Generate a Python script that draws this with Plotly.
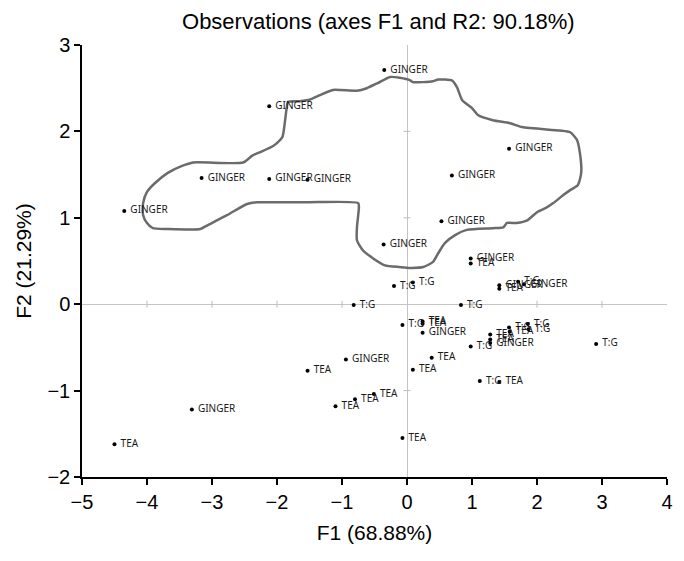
import plotly.graph_objects as go

# Observation scores (F1, F2)
ginger_x = [-0.35, -2.12, 1.57, -3.16, -2.12, -1.53, 0.69, -4.35, 0.53, -0.36, 0.98, 1.42, 1.80, 0.24, 1.28, -0.94, -3.31]
ginger_y = [2.71, 2.29, 1.80, 1.46, 1.45, 1.44, 1.49, 1.08, 0.96, 0.69, 0.53, 0.22, 0.23, -0.33, -0.45, -0.64, -1.22]

tea_x = [0.98, 1.42, 0.24, 0.24, 1.28, 1.28, 1.58, 0.38, 0.09, 1.42, -0.07, -1.53, -1.10, -0.80, -0.51, -4.50]
tea_y = [0.47, 0.18, -0.20, -0.225, -0.35, -0.41, -0.32, -0.62, -0.76, -0.90, -1.55, -0.77, -1.18, -1.10, -1.04, -1.62]

tg_x = [-0.20, 0.09, 1.71, 0.83, -0.82, -0.07, 1.57, 1.86, 1.87, 0.98, 1.12, 2.91]
tg_y = [0.21, 0.25, 0.26, -0.01, -0.01, -0.24, -0.27, -0.23, -0.29, -0.49, -0.89, -0.46]

# Hand-drawn enclosure around the GINGER group (data units)
contour_x = [-0.11, -0.26, -0.45, -0.62, -0.77, -1.14, -1.34, -1.49, -1.65, -1.83, -1.85, -1.88, -1.92,
             -2.06, -2.26, -2.38, -2.52, -3.29, -3.46, -3.68, -3.88, -4.00, -4.06, -4.06, -4.00, -3.91,
             -3.69, -3.18, -3.08, -2.77, -2.46, -2.31, -2.11, -1.54, -0.75, -0.74, -0.77, -0.77, -0.68,
             -0.52, -0.34, -0.11, 0.05, 0.25, 0.40, 0.48, 0.585, 0.74, 0.92, 1.32, 1.48, 1.54, 1.69, 1.85,
             2.00, 2.15, 2.25, 2.40, 2.51, 2.63, 2.68, 2.66, 2.615, 2.51, 2.35, 1.77, 1.585, 1.32, 1.09,
             1.00, 0.85, 0.77, 0.69, 0.48, 0.40, 0.09, 0.05, -0.11]
contour_y = [2.62, 2.63, 2.56, 2.50, 2.47, 2.48, 2.42, 2.37, 2.35, 2.34, 2.28, 2.10, 1.93,
             1.83, 1.76, 1.72, 1.64, 1.64, 1.60, 1.52, 1.40, 1.30, 1.17, 1.03, 0.94, 0.88,
             0.87, 0.87, 0.91, 1.03, 1.16, 1.18, 1.18, 1.18, 1.17, 1.12, 0.89, 0.74, 0.625,
             0.53, 0.45, 0.43, 0.42, 0.43, 0.49, 0.59, 0.71, 0.80, 0.86, 0.88, 0.89, 0.94, 0.94, 0.97,
             1.065, 1.12, 1.17, 1.26, 1.32, 1.38, 1.52, 1.75, 1.90, 1.99, 2.01, 2.05, 2.095, 2.13, 2.19,
             2.27, 2.36, 2.51, 2.59, 2.60, 2.58, 2.57, 2.59, 2.62]

x_ticks = [-5, -4, -3, -2, -1, 0, 1, 2, 3, 4]
y_ticks = [-2, -1, 0, 1, 2, 3]

title = "Observations (axes F1 and R2: 90.18%)"
x_title = "F1 (68.88%)"
y_title = "F2 (21.29%)"

fig = go.Figure()

# small tick marks on the zero lines
inner_x = [t for t in x_ticks if t not in (0, x_ticks[0], x_ticks[-1])]
inner_y = [t for t in y_ticks if t not in (0, y_ticks[0], y_ticks[-1])]
fig.add_trace(go.Scatter(
    x=inner_x, y=[0] * len(inner_x), mode="markers",
    marker=dict(symbol="line-ns", size=5, line=dict(color="#bdbdbd", width=1)),
    hoverinfo="skip", showlegend=False))
fig.add_trace(go.Scatter(
    x=[0] * len(inner_y), y=inner_y, mode="markers",
    marker=dict(symbol="line-ew", size=5, line=dict(color="#bdbdbd", width=1)),
    hoverinfo="skip", showlegend=False))

fig.add_trace(go.Scatter(
    x=contour_x, y=contour_y, mode="lines",
    line=dict(color="#6b6b6b", width=2.5, shape="spline", smoothing=0.6),
    hoverinfo="skip", showlegend=False))

lab_font = dict(family="Noto Sans", size=10, color="#1a1a1a")
for xs, ys, name in [(ginger_x, ginger_y, "GINGER"), (tea_x, tea_y, "TEA"), (tg_x, tg_y, "T:G")]:
    fig.add_trace(go.Scatter(
        x=xs, y=ys, mode="markers+text", text=[" " + name] * len(xs),
        textposition="middle right", textfont=lab_font,
        marker=dict(color="black", size=4), name=name, showlegend=False))

axis_common = dict(
    showline=True, linecolor="black", linewidth=1.5, mirror=False,
    ticks="outside", ticklen=6, tickcolor="black", tickwidth=1.5,
    showgrid=False, zeroline=True, zerolinecolor="#c4c4c4", zerolinewidth=1,
    automargin=False,
    tickfont=dict(family="Liberation Sans", size=20, color="black"),
)

# page body adds an 8px margin, so the figure is sized/offset to compensate
fig.update_layout(
    width=666, height=543,
    paper_bgcolor="white", plot_bgcolor="white",
    margin=dict(l=74, r=7, t=37, b=74),
    title=dict(text=title, x=0.556, xanchor="center", y=0.976, yanchor="middle",
               font=dict(family="Liberation Sans", size=22, color="black")),
    xaxis=dict(range=[-5, 4], tickvals=x_ticks, **axis_common,
               title=dict(text=x_title, standoff=14,
                          font=dict(family="Liberation Sans", size=21, color="black"))),
    yaxis=dict(range=[-2, 3], tickvals=y_ticks, **axis_common,
               title=dict(text=y_title, standoff=10,
                          font=dict(family="Liberation Sans", size=21, color="black"))),
)

fig.write_html("out.html")
